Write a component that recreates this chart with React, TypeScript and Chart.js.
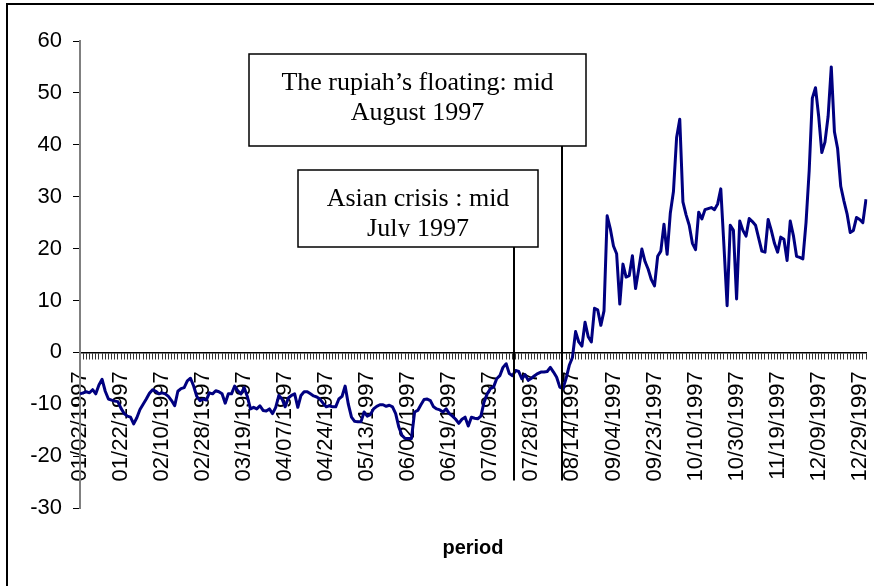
import { useEffect, useRef } from 'react';
import { Chart, registerables } from 'chart.js';

Chart.register(...registerables);

// Trading days of 1997 that are missing from the series
const missingDays = [
  '1997-01-20', '1997-02-17', '1997-05-26', '1997-07-04', '1997-08-15',
  '1997-09-01', '1997-10-13', '1997-11-11', '1997-11-27', '1997-12-25',
];

function buildCategories(): string[] {
  const out: string[] = [];
  const d = new Date(Date.UTC(1997, 0, 2));
  const end = new Date(Date.UTC(1997, 11, 31));
  while (d <= end) {
    const wd = d.getUTCDay();
    const iso = d.toISOString().slice(0, 10);
    if (wd !== 0 && wd !== 6 && !missingDays.includes(iso)) {
      out.push(`${iso.slice(5, 7)}/${iso.slice(8, 10)}/${iso.slice(0, 4)}`);
    }
    d.setUTCDate(d.getUTCDate() + 1);
  }
  return out;
}

const categories = buildCategories();

const tickLabels = [
  '01/02/1997', '01/22/1997', '02/10/1997', '02/28/1997', '03/19/1997',
  '04/07/1997', '04/24/1997', '05/13/1997', '06/02/1997', '06/19/1997',
  '07/09/1997', '07/28/1997', '08/14/1997', '09/04/1997', '09/23/1997',
  '10/10/1997', '10/30/1997', '11/19/1997', '12/09/1997', '12/29/1997',
];

const values = [
  -8.0, -7.8, -7.6, -7.8, -7.2, -8.0, -6.3, -5.2, -7.5, -9.0,
  -9.2, -9.4, -9.5, -10.8, -11.8, -12.3, -12.5, -13.8, -12.6, -11.0,
  -10.0, -9.0, -7.9, -7.2, -7.5, -8.0, -7.8, -8.0, -8.5, -9.3,
  -10.3, -7.5, -7.0, -6.8, -5.5, -5.0, -6.5, -8.5, -9.3, -9.0,
  -9.2, -7.8, -8.0, -7.4, -7.6, -8.0, -9.8, -8.0, -8.0, -6.5,
  -7.4, -8.0, -6.8, -8.5, -10.9, -10.6, -10.9, -10.3, -11.2, -11.3,
  -10.9, -11.8, -10.6, -8.3, -9.0, -10.5, -8.8, -8.3, -8.0, -10.6,
  -8.3, -7.6, -7.6, -8.0, -8.4, -8.6, -9.0, -9.8, -10.5, -10.3,
  -10.5, -10.5, -9.0, -8.5, -6.5, -10.0, -12.5, -13.3, -13.4, -13.4,
  -11.5, -12.3, -12.0, -10.9, -10.4, -10.1, -10.1, -10.4, -10.2, -10.5,
  -11.8, -14.4, -16.0, -16.6, -16.6, -16.6, -11.5, -11.2, -10.1, -9.1,
  -9.0, -9.3, -10.5, -10.9, -11.1, -11.5, -10.9, -11.8, -12.3, -12.9,
  -13.7, -12.9, -12.5, -14.2, -12.5, -12.7, -12.8, -12.3, -9.6, -8.0,
  -7.0, -6.7, -5.1, -4.5, -2.9, -2.2, -4.1, -4.5, -3.5, -3.7,
  -5.1, -4.3, -5.4, -5.0, -4.5, -4.1, -3.8, -3.8, -3.7, -2.9,
  -3.8, -4.8, -6.7, -7.0, -5.0, -2.5, -1.0, 4.0, 2.0, 1.2,
  5.8, 3.0, 2.0, 8.5, 8.2, 5.2, 8.0, 26.3, 23.8, 20.5,
  19.0, 9.3, 17.0, 14.5, 14.8, 18.6, 12.3, 16.0, 19.9, 17.5,
  16.0, 14.0, 12.8, 18.5, 19.5, 24.7, 18.9, 26.8, 31.0, 41.4,
  44.9, 29.0, 26.5, 24.5, 21.0, 19.8, 27.0, 25.7, 27.5, 27.7,
  27.9, 27.5, 28.6, 31.5, 20.5, 9.0, 24.5, 23.5, 10.3, 25.3,
  23.5, 22.4, 25.8, 25.2, 24.5, 22.0, 19.5, 19.3, 25.6, 23.5,
  21.0, 19.3, 22.2, 21.8, 17.7, 25.3, 22.5, 18.5, 18.3, 18.0,
  25.0, 35.0, 49.0, 51.0, 45.5, 38.5, 40.5, 45.5, 55.0, 42.5,
  39.3, 32.0, 29.2, 26.7, 23.1, 23.5, 26.0, 25.6, 25.0, 29.5,
];

// Event markers: position on the category axis (fractional index) and texts
const eventIndex = [137.5, 152.7];
const eventText = [
  ['Asian crisis : mid', 'July 1997'],
  ['The rupiah\u2019s floating: mid', 'August 1997'],
];
const eventLineBottomValue = -24.7;

const SANS = '"Liberation Sans", Arial, sans-serif';
const SERIF = '"Liberation Serif", "Times New Roman", serif';

// Box geometry (layout only)
const boxes = [
  { x: 298, y: 170, w: 240, h: 77, baselines: [206, 236], clipBottom: 237 },
  { x: 249, y: 54, w: 337, h: 92, baselines: [90, 120], clipBottom: 146 },
];

const eventsPlugin = {
  id: 'events',
  afterDatasetsDraw(chart: any) {
    const { ctx, scales } = chart;
    const x = scales.x;
    const y = scales.y;
    ctx.save();
    ctx.strokeStyle = '#000';
    ctx.lineWidth = 2;
    eventIndex.forEach((idx, k) => {
      const b = boxes[k];
      const px = Math.round(x.getPixelForValue(idx));
      ctx.beginPath();
      ctx.moveTo(px, b.y + b.h);
      ctx.lineTo(px, y.getPixelForValue(eventLineBottomValue));
      ctx.stroke();
    });
    eventText.forEach((lines, k) => {
      const b = boxes[k];
      ctx.fillStyle = '#fff';
      ctx.fillRect(b.x, b.y, b.w, b.h);
      ctx.lineWidth = 1.5;
      ctx.strokeStyle = '#000';
      ctx.strokeRect(b.x, b.y, b.w, b.h);
      ctx.save();
      ctx.beginPath();
      ctx.rect(b.x, b.y, b.w, b.clipBottom - b.y);
      ctx.clip();
      ctx.fillStyle = '#000';
      ctx.font = `26px ${SERIF}`;
      ctx.textAlign = 'center';
      ctx.textBaseline = 'alphabetic';
      lines.forEach((t, j) => ctx.fillText(t, b.x + b.w / 2, b.baselines[j]));
      ctx.restore();
    });
    ctx.restore();
  },
};

export default function App() {
  const ref = useRef<HTMLCanvasElement | null>(null);

  useEffect(() => {
    if (!ref.current) return;
    const labelSet = new Set(tickLabels);
    const chart = new Chart(ref.current, {
      type: 'line',
      data: {
        labels: categories,
        datasets: [
          {
            data: values,
            borderColor: '#000080',
            borderWidth: 3,
            pointRadius: 0,
            tension: 0,
            fill: false,
            borderJoinStyle: 'round',
          },
        ],
      },
      options: {
        animation: false,
        responsive: false,
        devicePixelRatio: 1,
        layout: { padding: { left: 0, top: 41, right: 8, bottom: 0 } },
        plugins: {
          legend: { display: false },
          tooltip: { enabled: false },
          title: {
            display: true,
            position: 'bottom',
            fullSize: false,
            text: 'period',
            color: '#000',
            font: { family: SANS, size: 20, weight: 'bold', lineHeight: 1.2 },
            padding: { top: 28, bottom: 26 },
          },
        },
        scales: {
          x: {
            type: 'category',
            position: { y: 0 } as any,
            offset: false,
            grid: {
              display: true,
              drawOnChartArea: false,
              drawTicks: true,
              tickLength: 6,
              color: '#333',
              lineWidth: 1,
              offset: false,
            },
            border: { display: true, color: '#000', width: 1.5 },
            ticks: {
              autoSkip: false,
              minRotation: 90,
              maxRotation: 90,
              padding: 13,
              color: '#000',
              font: { family: SANS, size: 22 },
              callback: (_v: any, i: number) =>
                labelSet.has(categories[i]) ? categories[i] : '',
            },
            afterFit: (s: any) => {
              s.paddingLeft = 0;
              s.paddingRight = 0;
              s.paddingTop = 0;
              s.paddingBottom = 0;
            },
          },
          y: {
            min: -30,
            max: 60,
            ticks: {
              stepSize: 10,
              padding: 11,
              color: '#000',
              font: { family: SANS, size: 22 },
            },
            grid: {
              drawOnChartArea: false,
              drawTicks: true,
              tickLength: 7,
              color: '#000',
            },
            border: { display: true, color: '#808080', width: 2 },
            afterFit: (s: any) => {
              s.width = 80;
            },
          },
        },
      },
      plugins: [eventsPlugin],
    } as any);
    return () => chart.destroy();
  }, []);

  return (
    <div
      style={{
        position: 'fixed',
        left: 0,
        top: 0,
        width: 874,
        height: 586,
        overflow: 'hidden',
        background: '#fff',
      }}
    >
      <div
        style={{
          position: 'absolute',
          left: 6,
          top: 3,
          width: 900,
          height: 620,
          border: '2px solid #000',
          boxSizing: 'border-box',
        }}
      />
      <canvas
        ref={ref}
        width={874}
        height={586}
        style={{ position: 'absolute', left: 0, top: 0, width: 874, height: 586 }}
      />
    </div>
  );
}
